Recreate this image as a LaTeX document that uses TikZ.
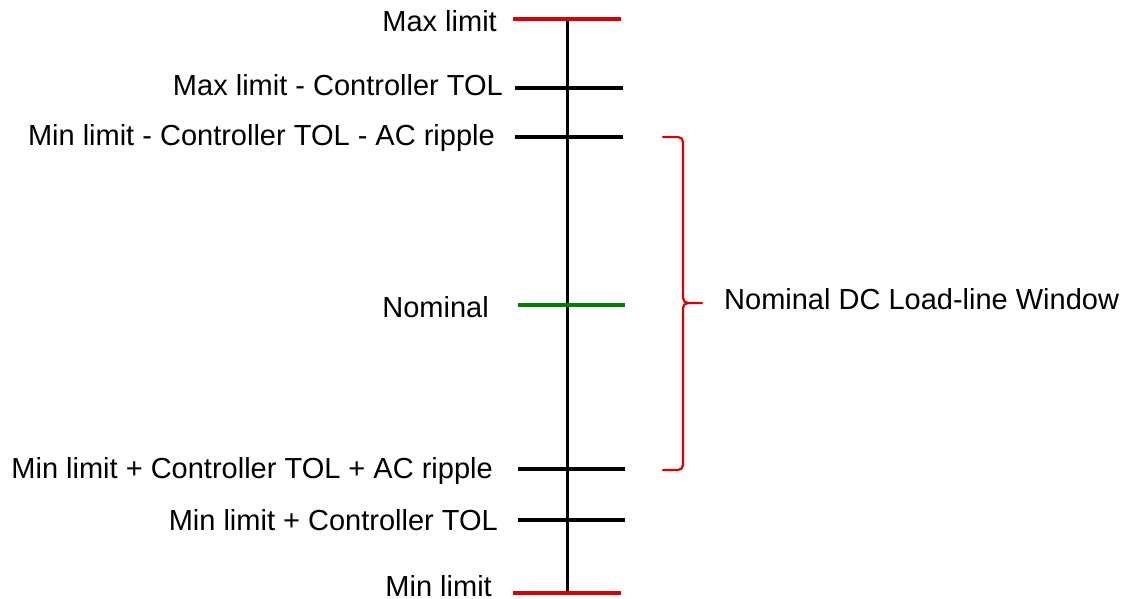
\documentclass[tikz,border=0pt]{standalone}
\usepackage{fontspec}
\setmainfont{Liberation Sans}
\definecolor{myred}{RGB}{220,0,0}
\definecolor{mygreen}{RGB}{0,128,0}
\begin{document}
\begin{tikzpicture}[x=1pt,y=-1pt,
  lbl/.style={anchor=east,font=\fontsize{29}{32}\selectfont,inner sep=0pt},
  tick/.style={line width=4pt},
  redtick/.style={line width=4pt,draw=myred},
  greentick/.style={line width=3.5pt,draw=mygreen}]
\useasboundingbox (0,0) rectangle (1129,599);
\coordinate (top) at (567,20);
\coordinate (bot) at (567,593);
\draw[line width=3pt] (top) -- (bot);
\draw[redtick] (513,19) -- (621,19);
\draw[tick] (515,88) -- (623,88);
\draw[tick] (515,137) -- (623,137);
\draw[greentick] (518,305) -- (625,305);
\draw[tick] (518,469) -- (625,469);
\draw[tick] (518,520) -- (625,520);
\draw[redtick] (513,593) -- (621,593);
\node[lbl] (l1) at (497,21) {Max limit};
\node[lbl] (l2) at (503,85) {Max limit - Controller TOL};
\node[lbl] (l3) at (495,138) {Min limit - Controller TOL - AC ripple};
\node[lbl] (l4) at (489,307) {Nominal};
\node[lbl] (l5) at (493,471) {Min limit + Controller TOL + AC ripple};
\node[lbl] (l6) at (498,520) {Min limit + Controller TOL};
\node[lbl,anchor=base east,text depth=0pt] (l7) at (492,596) {Min limit};
\node[lbl,anchor=west] (w) at (724,299) {Nominal DC Load-line Window};
\draw[myred,line width=2.2pt,line cap=round,line join=round]
  (663,137) -- (678,137) to[out=0,in=90] (683,142) -- (683,298)
  to[out=-90,in=180] (688,303) -- (702,303);
\draw[myred,line width=2.2pt,line cap=round,line join=round]
  (663,470) -- (678,470) to[out=0,in=-90] (683,465) -- (683,308)
  to[out=90,in=180] (688,303);
\end{tikzpicture}
\end{document}
